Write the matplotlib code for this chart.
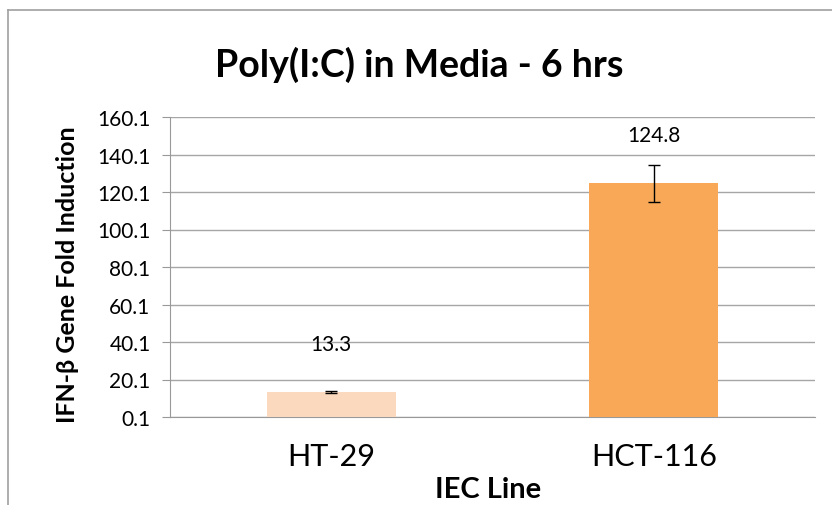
import matplotlib.pyplot as plt
from matplotlib.lines import Line2D
import numpy as np

plt.rcParams['font.family'] = ['Lato', 'DejaVu Sans']

# data
lines = ['HT-29', 'HCT-116']
fold = [13.3, 124.8]
err = [0.5, 9.9]
colors = ['#FBD9BE', '#F8A857']
yticks = [0.1, 20.1, 40.1, 60.1, 80.1, 100.1, 120.1, 140.1, 160.1]

fig = plt.figure(figsize=(8.32, 5.06), dpi=100)
ax = fig.add_axes([170 / 832, 1 - 418 / 506, 645 / 832, 300 / 506])

x = np.arange(len(lines))
ax.bar(x, fold, width=0.4, color=colors, zorder=3)
ax.errorbar(x, fold, yerr=err, fmt='none', ecolor='black', elinewidth=1,
            capsize=4.5, capthick=1, zorder=4)

# value labels above the bars (offset in pixels)
for xi, v in zip(x, fold):
    ax.annotate(f'{v:.1f}', (xi, v), xytext=(0, 48), textcoords='offset pixels',
                ha='center', va='center', fontsize=15, zorder=5)

ax.set_xlim(-0.5, 1.5)
ax.set_ylim(0.1, 160.1)
ax.set_yticks(yticks)
ax.set_yticklabels([f'{t:.1f}' for t in yticks], fontsize=15)
ax.set_xticks(x)
ax.set_xticklabels(lines, fontsize=22)
ax.tick_params(axis='x', length=0, pad=18)
ax.tick_params(axis='y', length=6, color='#999999', pad=8)
ax.grid(axis='y', color='#a6a6a6', linewidth=1, zorder=0)
for s in ['top', 'right']:
    ax.spines[s].set_visible(False)
for s in ['left', 'bottom']:
    ax.spines[s].set_color('#999999')

fig.text(68 / 832, 1 - 275 / 506, 'IFN-β Gene Fold Induction', rotation=90,
         ha='center', va='center', fontsize=18, fontweight='bold')
fig.text(488 / 832, 1 - 490 / 506, 'IEC Line', ha='center', va='center',
         fontsize=21, fontweight='bold')
fig.text(419 / 832, 1 - 65 / 506, 'Poly(I:C) in Media - 6 hrs', ha='center',
         va='center', fontsize=27, fontweight='bold')

# outer chart border (cropped)
fig.add_artist(Line2D([8 / 832, 8 / 832], [0, 1 - 11 / 506], transform=fig.transFigure,
                      color='#a0a0a0', linewidth=1.2))
fig.add_artist(Line2D([8 / 832, 1], [1 - 11 / 506, 1 - 11 / 506], transform=fig.transFigure,
                      color='#a0a0a0', linewidth=1.2))

fig.savefig('out.png', dpi=100)
